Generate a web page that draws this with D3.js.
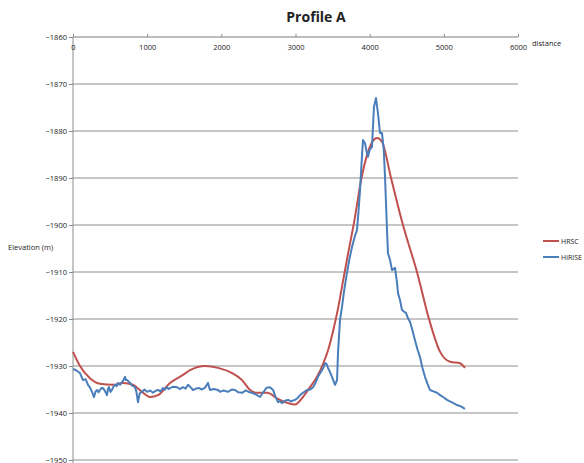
<!DOCTYPE html>
<html><head><meta charset="utf-8">
<script src="https://cdn.jsdelivr.net/npm/d3@7"></script>
<style>body{margin:0;background:#fff}svg{display:block}text{font-family:"Open Sans","Liberation Sans",sans-serif;fill:#222}</style>
</head><body><svg id="c" width="584" height="463"></svg>
<script>
const xTicks = [0,1000,2000,3000,4000,5000,6000];
const yTicks = [-1860,-1870,-1880,-1890,-1900,-1910,-1920,-1930,-1940,-1950];
const seriesNames = ["HRSC","HiRISE"];
const hrscDist = [0,94,229,364,539,674,809,930,1038,1146,1308,1483,1578,1780,1955,2144,2279,2387,2481,2616,2764,2900,2993,3101,3196,3290,3371,3440,3506,3573,3640,3710,3789,3884,3977,4040,4099,4166,4288,4449,4638,4800,4950,5083,5218,5285];
const hrscElev = [-1927.0,-1930.0,-1932.6,-1933.8,-1934.0,-1933.6,-1934.0,-1935.5,-1936.6,-1936.2,-1933.6,-1931.9,-1930.9,-1930.0,-1930.4,-1931.5,-1933.0,-1935.1,-1935.7,-1935.7,-1937.0,-1937.9,-1938.2,-1936.6,-1934.5,-1932.3,-1929.6,-1926.6,-1922.6,-1917.8,-1912.0,-1906.0,-1899.5,-1890.5,-1884.5,-1882.2,-1881.5,-1882.3,-1890.0,-1900.0,-1910.0,-1920.0,-1927.0,-1929.1,-1929.4,-1930.4];
const hiriseDist = [0,40,94,135,170,202,230,256,283,305,324,345,364,385,404,430,458,470,485,505,526,545,566,590,607,635,661,680,701,715,728,750,768,800,836,855,876,900,930,965,998,1040,1079,1110,1146,1180,1213,1240,1267,1290,1308,1350,1402,1440,1483,1520,1551,1590,1618,1660,1700,1740,1780,1820,1847,1900,1955,1982,2030,2090,2140,2184,2230,2279,2330,2380,2413,2470,2521,2562,2610,2656,2697,2730,2764,2790,2818,2860,2899,2940,2993,3030,3061,3110,3155,3200,3236,3270,3303,3330,3357,3380,3398,3420,3438,3465,3492,3520,3533,3560,3573,3600,3627,3660,3694,3730,3762,3800,3829,3850,3870,3890,3910,3937,3960,3977,4000,4031,4058,4085,4112,4139,4166,4190,4207,4234,4247,4274,4301,4342,4369,4382,4410,4436,4460,4490,4515,4544,4580,4611,4645,4679,4710,4746,4780,4813,4860,4908,4950,5000,5043,5090,5130,5178,5230,5285];
const hiriseElev = [-1930.6,-1930.9,-1931.5,-1933.0,-1932.8,-1934.0,-1934.6,-1935.5,-1936.6,-1935.4,-1935.1,-1935.6,-1935.1,-1934.7,-1934.7,-1935.3,-1936.2,-1935.0,-1934.5,-1935.5,-1935.1,-1934.4,-1934.0,-1934.3,-1933.6,-1934.0,-1933.4,-1933.0,-1932.3,-1933.0,-1933.0,-1933.3,-1933.6,-1934.2,-1934.5,-1935.5,-1937.7,-1935.8,-1935.5,-1935.0,-1935.5,-1935.2,-1935.7,-1935.3,-1935.1,-1935.4,-1934.7,-1935.0,-1934.5,-1934.9,-1934.7,-1934.4,-1934.5,-1934.9,-1934.5,-1934.8,-1934.0,-1934.6,-1935.1,-1934.8,-1934.7,-1935.0,-1934.6,-1933.6,-1935.1,-1934.9,-1935.1,-1935.5,-1935.2,-1935.5,-1935.0,-1935.1,-1935.6,-1935.7,-1935.2,-1935.6,-1935.7,-1936.1,-1936.6,-1935.7,-1934.6,-1934.5,-1935.1,-1936.5,-1937.7,-1937.5,-1937.9,-1937.4,-1937.2,-1937.5,-1937.2,-1936.8,-1936.2,-1935.6,-1935.1,-1935.0,-1934.5,-1933.6,-1932.3,-1931.6,-1930.9,-1930.2,-1929.4,-1929.6,-1930.4,-1931.3,-1932.3,-1933.5,-1934.0,-1933.0,-1927.2,-1920.2,-1917.4,-1913.5,-1910.2,-1907.0,-1904.7,-1902.4,-1901.1,-1897.0,-1892.6,-1887.0,-1881.9,-1882.6,-1884.5,-1885.5,-1884.0,-1883.4,-1874.9,-1873.0,-1876.2,-1880.4,-1880.4,-1884.0,-1889.8,-1901.1,-1906.0,-1907.4,-1909.6,-1909.1,-1912.3,-1914.5,-1916.0,-1918.1,-1918.4,-1918.7,-1919.8,-1920.6,-1922.6,-1924.5,-1926.5,-1928.1,-1930.3,-1932.3,-1933.8,-1935.1,-1935.4,-1935.7,-1936.2,-1936.7,-1937.2,-1937.6,-1937.9,-1938.3,-1938.6,-1939.1];

const svg = d3.select("#c");
const x = d3.scaleLinear().domain([0,6000]).range([73,518]);
const y = d3.scaleLinear().domain([-1860,-1950]).range([37,460]);

// gridlines
svg.append("g").selectAll("line").data(yTicks.slice(1)).join("line")
  .attr("x1",73).attr("x2",518).attr("y1",d=>y(d)).attr("y2",d=>y(d))
  .attr("stroke","#b3b3b3").attr("stroke-width",1.3);

// y axis
const ya = svg.append("g").attr("transform","translate(73,0)")
  .call(d3.axisLeft(y).tickValues(yTicks).tickSize(4).tickFormat(d3.format("d")));
ya.select(".domain").attr("stroke","#8c8c8c").attr("d","M0,37V463");
ya.selectAll(".tick line").attr("stroke","#8c8c8c");
ya.selectAll("text").attr("font-size",7.5).attr("fill","#333").attr("x",-6).attr("dy","0.35em");

// x axis at top
const xa = svg.append("g").attr("transform","translate(0,37)")
  .call(d3.axisTop(x).tickValues(xTicks).tickSize(3).tickFormat(d3.format("d")));
xa.select(".domain").attr("stroke","#a6a6a6").attr("stroke-width",1.3).attr("d","M73,0H518");
xa.selectAll(".tick line").attr("stroke","#8c8c8c");
xa.selectAll("text").attr("font-size",7.5).attr("fill","#333").attr("y",10).attr("dy","0.35em");

// axis titles
svg.append("text").attr("x",532).attr("y",46).attr("font-size",7.5).text("distance");
svg.append("text").attr("x",8).attr("y",250).attr("font-size",7.5).text("Elevation  (m)");
svg.append("text").attr("x",316).attr("y",22).attr("text-anchor","middle").attr("font-size",14).attr("font-weight","bold").attr("fill","#111").text("Profile A");

// lines
const hrsc = hrscDist.map((d,i)=>[d,hrscElev[i]]);
const hirise = hiriseDist.map((d,i)=>[d,hiriseElev[i]]);
svg.append("path").datum(hrsc).attr("fill","none").attr("stroke","#C0504D").attr("stroke-width",2)
  .attr("d", d3.line().x(d=>x(d[0])).y(d=>y(d[1])).curve(d3.curveMonotoneX));
svg.append("path").datum(hirise).attr("fill","none").attr("stroke","#4A7EBB").attr("stroke-width",2)
  .attr("stroke-linejoin","round")
  .attr("d", d3.line().x(d=>x(d[0])).y(d=>y(d[1])));

// legend
const colors = ["#C0504D","#4A7EBB"];
const lg = svg.append("g").selectAll("g").data(seriesNames).join("g")
  .attr("transform",(d,i)=>`translate(543,${241+i*16})`);
lg.append("line").attr("x1",0).attr("x2",16).attr("stroke",(d,i)=>colors[i]).attr("stroke-width",2);
lg.append("text").attr("x",18).attr("y",3).attr("font-size",7).text(d=>d);
</script></body></html>
